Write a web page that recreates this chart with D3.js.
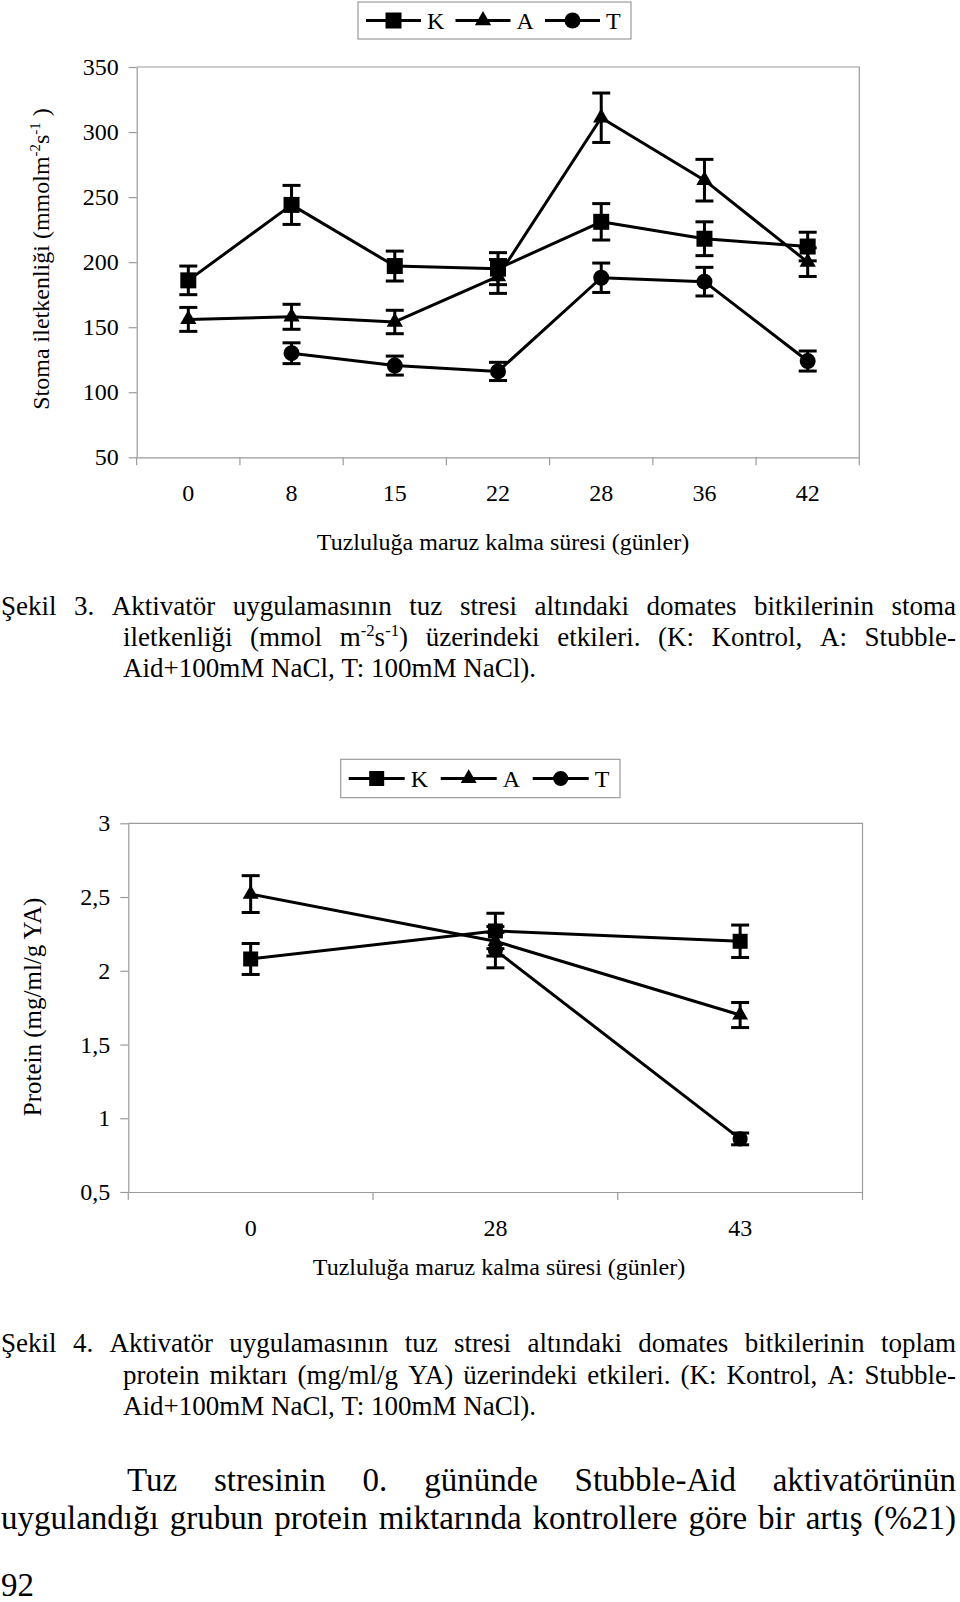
<!DOCTYPE html>
<html><head><meta charset="utf-8">
<script src="https://cdn.jsdelivr.net/npm/d3@7"></script>
<style>
body{margin:0;background:#fff}
svg{display:block}
svg text{font-family:"Liberation Serif","Times New Roman",Tinos,Times,serif}
</style>
</head><body>
<script>
// ---------- data ----------
const days1 = ["0","8","15","22","28","36","42"];
const K1 = [186, 244, 197, 195, 231, 218, 212];
const K1err = [11, 15, 11.5, 12.3, 14, 13, 11];
const A1 = [156, 158, 154, 189, 311, 263, 200];
const A1err = [9.2, 9.6, 9, 13, 19, 16, 11];
const T1 = [null, 130, 120.5, 116, 188, 185, 124];
const T1err = [null, 8, 7.3, 7, 11.3, 11, 7.7];
const yTicks1 = [50,100,150,200,250,300,350];

const days2 = ["0","28","43"];
const K2 = [2.08, 2.27, 2.20];
const K2err = [0.105, 0.12, 0.11];
const A2 = [2.52, 2.20, 1.70];
const A2err = [0.125, 0.10, 0.085];
const T2 = [null, 2.14, 0.86];
const T2err = [null, 0.12, 0.04];
const yTicks2 = [0.5,1,1.5,2,2.5,3];

const seriesNames = ["K","A","T"];
const xTitle = "Tuzluluğa maruz kalma süresi (günler)";
const yTitle1 = "Stoma iletkenliği (mmolm^{-2}s^{-1} )";
const yTitle2 = "Protein (mg/ml/g YA)";

const caption1 = [
  "Şekil 3. Aktivatör uygulamasının tuz stresi altındaki domates bitkilerinin stoma",
  "iletkenliği (mmol m^{-2}s^{-1}) üzerindeki etkileri. (K: Kontrol, A: Stubble-",
  "Aid+100mM NaCl, T: 100mM NaCl)."
];
const caption2 = [
  "Şekil 4. Aktivatör uygulamasının tuz stresi altındaki domates bitkilerinin toplam",
  "protein miktarı (mg/ml/g YA) üzerindeki etkileri. (K: Kontrol, A: Stubble-",
  "Aid+100mM NaCl, T: 100mM NaCl)."
];
const bodyText = [
  "Tuz stresinin 0. gününde Stubble-Aid aktivatörünün",
  "uygulandığı grubun protein miktarında kontrollere göre bir artış (%21)"
];
const pageNo = "92";

// ---------- drawing ----------
const AXIS = "#9a9a9a";
const svg = d3.select("body").append("svg")
  .attr("width", 960).attr("height", 1602).attr("fill", "#000");

const symbols = {K: d3.symbolSquare, A: d3.symbolTriangle, T: d3.symbolCircle};

function pieces(str){
  const out = []; const re = /\^\{([^}]*)\}/g; let last = 0, m;
  while ((m = re.exec(str))){ if (m.index>last) out.push([str.slice(last,m.index), false]); out.push([m[1], true]); last = re.lastIndex; }
  if (last < str.length) out.push([str.slice(last), false]);
  return out;
}
function fillRich(text, str, size){
  let up = false;
  pieces(str).forEach(([t, sup]) => {
    const ts = text.append("tspan").text(t);
    if (sup){ ts.attr("font-size", size*0.62).attr("dy", up ? 0 : -size*0.38); up = true; }
    else { ts.attr("dy", up ? size*0.38 : 0); up = false; }
  });
}

function drawChart(c){
  const g = svg.append("g");
  const x = d3.scaleBand().domain(c.days).range([c.left, c.right]);
  const y = d3.scaleLinear().domain(c.yDomain).range([c.bottom, c.top]);
  const cx = d => x(d) + x.bandwidth()/2;

  g.append("path").attr("fill","none").attr("stroke",AXIS).attr("stroke-width",1.2)
    .attr("d", d3.line()([[c.left, c.top],[c.right, c.top],[c.right, c.bottom]]));

  const ya = g.append("g").attr("transform", `translate(${c.left},0)`)
    .call(d3.axisLeft(y).tickValues(c.yTicks).tickSize(8).tickPadding(10).tickSizeOuter(0).tickFormat(c.fmt));
  const xa = g.append("g").attr("transform", `translate(0,${c.bottom})`)
    .call(d3.axisBottom(x).tickSize(0).tickPadding(27).tickSizeOuter(0));
  [ya, xa].forEach(a => {
    a.attr("font-family", null);
    a.select(".domain").attr("stroke", AXIS).attr("stroke-width", 1.2);
    a.selectAll(".tick line").attr("stroke", AXIS).attr("stroke-width", 1.2);
    a.selectAll("text").attr("font-size", 24).attr("fill", "#000");
  });
  const bounds = c.days.map(d => x(d)).concat([x.range()[1]]);
  g.append("g").selectAll("line").data(bounds).join("line")
    .attr("x1", d=>d).attr("x2", d=>d).attr("y1", c.bottom).attr("y2", c.bottom+8)
    .attr("stroke", AXIS).attr("stroke-width", 1.2);

  g.append("text").attr("x", c.xTitleX).attr("y", c.xTitleY)
    .attr("text-anchor","middle").attr("font-size",24).text(xTitle);
  const yt = g.append("text").attr("text-anchor","middle").attr("font-size", c.yTitleSize)
    .attr("transform", `translate(${c.yTitleX},${c.yTitleCY}) rotate(-90)`);
  fillRich(yt, c.yTitle, c.yTitleSize);

  const line = d3.line().defined(d => d.v != null).x(d => cx(d.day)).y(d => y(d.v));
  c.series.forEach(s => {
    const pts = c.days.map((day,i) => ({day, v: s.vals[i], e: s.errs[i]}));
    g.append("path").datum(pts).attr("fill","none").attr("stroke","#000")
      .attr("stroke-width", 3).attr("stroke-linejoin","round").attr("d", line);
  });
  c.series.forEach(s => {
    const pts = c.days.map((day,i) => ({day, v: s.vals[i], e: s.errs[i]})).filter(d => d.v != null);
    const eb = g.append("g").attr("stroke","#000").attr("stroke-width",3);
    eb.selectAll(".v").data(pts).join("line")
      .attr("x1", d=>cx(d.day)).attr("x2", d=>cx(d.day))
      .attr("y1", d=>y(d.v - d.e)).attr("y2", d=>y(d.v + d.e));
    eb.selectAll(".t").data(pts).join("line")
      .attr("x1", d=>cx(d.day)-9).attr("x2", d=>cx(d.day)+9)
      .attr("y1", d=>y(d.v + d.e)).attr("y2", d=>y(d.v + d.e));
    eb.selectAll(".b").data(pts).join("line")
      .attr("x1", d=>cx(d.day)-9).attr("x2", d=>cx(d.day)+9)
      .attr("y1", d=>y(d.v - d.e)).attr("y2", d=>y(d.v - d.e));
    g.append("g").selectAll("path").data(pts).join("path")
      .attr("transform", d => `translate(${cx(d.day)},${y(d.v)})`)
      .attr("d", d3.symbol(symbols[s.name], c.msize[s.name]))
      .attr("fill","#000");
  });

  const L = c.legend;
  const lg = g.append("g");
  lg.append("rect").attr("x", L.x).attr("y", L.y).attr("width", L.w).attr("height", L.h)
    .attr("fill","#fff").attr("stroke", AXIS).attr("stroke-width", 1.2);
  const ly = L.y + L.h/2;
  seriesNames.forEach((n,i) => {
    const x0 = L.x + L.pad + i*L.step;
    lg.append("line").attr("x1", x0).attr("x2", x0+L.len).attr("y1", ly).attr("y2", ly)
      .attr("stroke","#000").attr("stroke-width",3);
    lg.append("path").attr("transform", `translate(${x0+L.len/2},${ly})`)
      .attr("d", d3.symbol(symbols[n], c.msize[n])).attr("fill","#000");
    lg.append("text").attr("x", x0+L.len+6).attr("y", ly+8).attr("font-size",24).text(n);
  });
}

drawChart({
  days: days1, left: 136.7, right: 859.3, top: 67, bottom: 457.3,
  yDomain: [50,350], yTicks: yTicks1, fmt: d3.format("d"),
  series: [{name:"K", vals:K1, errs:K1err},{name:"A", vals:A1, errs:A1err},{name:"T", vals:T1, errs:T1err}],
  msize: {K: 256, A: 115, T: 200},
  xTitleX: 503, xTitleY: 550, yTitle: yTitle1, yTitleSize: 24, yTitleX: 49, yTitleCY: 259,
  legend: {x: 358, y: 2, w: 273, h: 37, pad: 8, step: 89.5, len: 55}
});
drawChart({
  days: days2, left: 128.3, right: 862.5, top: 823.3, bottom: 1192,
  yDomain: [0.5,3], yTicks: yTicks2, fmt: d => String(d).replace(".", ","),
  series: [{name:"K", vals:K2, errs:K2err},{name:"A", vals:A2, errs:A2err},{name:"T", vals:T2, errs:T2err}],
  msize: {K: 225, A: 110, T: 180},
  xTitleX: 499, xTitleY: 1275, yTitle: yTitle2, yTitleSize: 25, yTitleX: 41, yTitleCY: 1007,
  legend: {x: 340.7, y: 759.3, w: 279.3, h: 38.4, pad: 8, step: 92, len: 56}
});

function textLine(str, x0, x1, baseline, size, justify){
  const g = svg.append("g").attr("font-size", size);
  const words = str.split(" ");
  const nodes = words.map(w => { const t = g.append("text").attr("y", baseline); fillRich(t, w, size); return t; });
  const widths = nodes.map(n => n.node().getComputedTextLength());
  const total = d3.sum(widths);
  const gap = justify ? (x1 - x0 - total)/(words.length - 1) : size*0.25;
  let x = x0;
  nodes.forEach((n,i) => { n.attr("x", x); x += widths[i] + gap; });
}
const CAP = 27, BODY = 33;
textLine(caption1[0], 1, 956, 615, CAP, true);
textLine(caption1[1], 123, 956, 646, CAP, true);
textLine(caption1[2], 123, 956, 677, CAP, false);
textLine(caption2[0], 1, 956, 1352, CAP, true);
textLine(caption2[1], 123, 956, 1384, CAP, true);
textLine(caption2[2], 123, 956, 1415, CAP, false);
textLine(bodyText[0], 127, 956, 1491, BODY, true);
textLine(bodyText[1], 1, 956, 1529, BODY, true);
textLine(pageNo, 1, 956, 1596, BODY, false);
</script>
</body></html>
